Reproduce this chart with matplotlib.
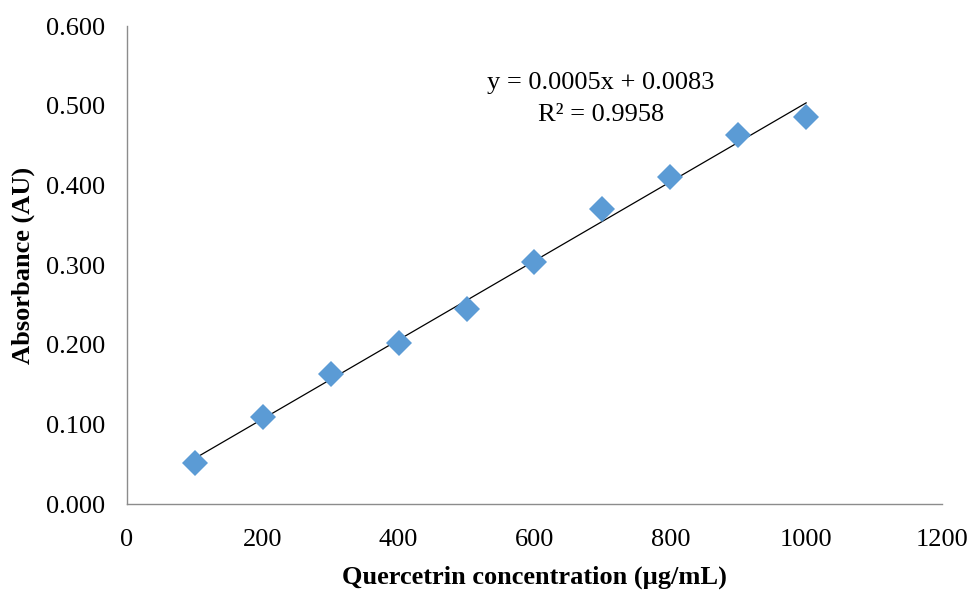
import numpy as np
import matplotlib
matplotlib.use("Agg")
import matplotlib.pyplot as plt
from matplotlib.ticker import FormatStrFormatter

plt.rcParams['font.family'] = ['Liberation Serif', 'DejaVu Serif']

# Quercetrin calibration data
concentration = [100, 200, 300, 400, 500, 600, 700, 800, 900, 1000]
absorbance = [0.052, 0.109, 0.163, 0.2025, 0.245, 0.304, 0.370, 0.410, 0.463, 0.486]
x_ticks = [0, 200, 400, 600, 800, 1000, 1200]
y_ticks = [0.0, 0.1, 0.2, 0.3, 0.4, 0.5, 0.6]
equation_text = "y = 0.0005x + 0.0083"
r2_text = "R\u00b2 = 0.9958"

fig = plt.figure(figsize=(9.74, 5.92), dpi=100)
ax = fig.add_axes([0.1304, 0.1486, 0.8367, 0.8074])

# Linear trendline through the measured points
slope, intercept = np.polyfit(concentration, absorbance, 1)
xs = np.array([min(concentration), max(concentration)])
ax.plot(xs, slope * xs + intercept, color='black', lw=0.9, zorder=2)

ax.plot(concentration, absorbance, linestyle='none', marker='D', markersize=13,
        color='#5B9BD5', markeredgewidth=0, zorder=3)

ax.set_xlim(0, 1200)
ax.set_ylim(0, 0.6)
ax.set_xticks(x_ticks)
ax.set_yticks(y_ticks)
ax.yaxis.set_major_formatter(FormatStrFormatter('%.3f'))
ax.tick_params(axis='both', length=0, labelsize=19, colors='black')
ax.tick_params(axis='y', pad=16)
ax.tick_params(axis='x', pad=18)

for side in ('top', 'right'):
    ax.spines[side].set_visible(False)
for side in ('left', 'bottom'):
    ax.spines[side].set_color('#8c8c8c')
    ax.spines[side].set_linewidth(1.0)

ax.set_xlabel("Quercetrin concentration (\u00b5g/mL)", fontsize=19, fontweight='bold')
ax.set_ylabel("Absorbance (AU)", fontsize=19, fontweight='bold')
ax.xaxis.set_label_coords(0.5, -0.128)
ax.yaxis.set_label_coords(-0.113, 0.5)

ax.text(0.5816, 0.8808, equation_text, transform=ax.transAxes, ha='center',
        va='center', fontsize=19)
ax.text(0.5816, 0.8138, r2_text, transform=ax.transAxes, ha='center',
        va='center', fontsize=19)

fig.savefig("out.png", dpi=100)
